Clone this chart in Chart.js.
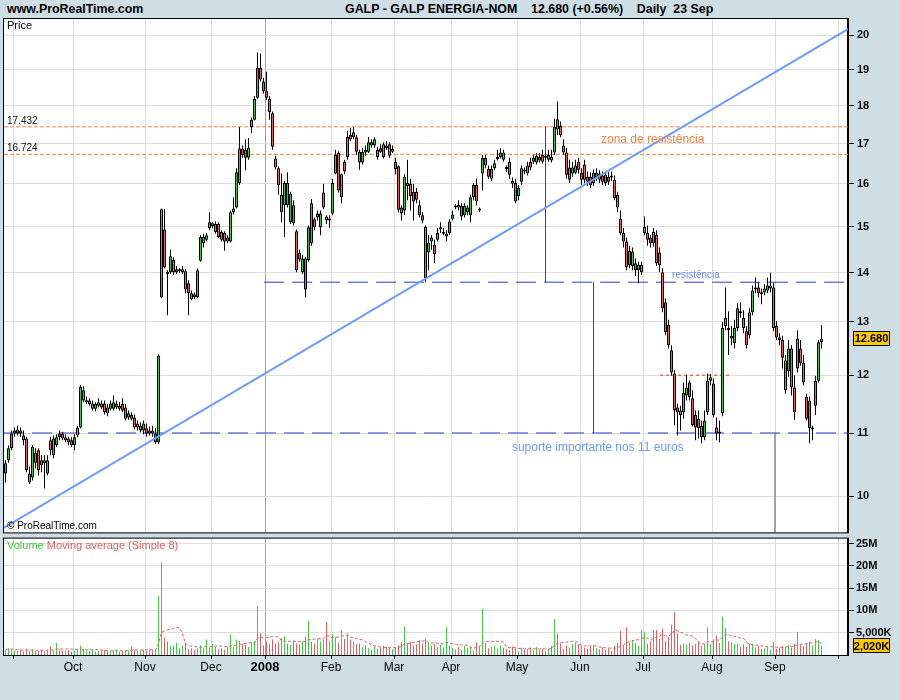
<!DOCTYPE html>
<html><head><meta charset="utf-8">
<script src="https://cdn.jsdelivr.net/npm/chart.js@4.4.1/dist/chart.umd.min.js"></script>
<style>
html,body{margin:0;padding:0;background:#CFDEE5;width:900px;height:700px;overflow:hidden;}
#wrap{position:relative;width:900px;height:700px;}
canvas{position:absolute;left:0;}
#cp{top:0}
#cv{top:530px}
.t{position:absolute;font-family:"Liberation Sans",Arial,sans-serif;font-weight:bold;font-size:12.4px;color:#000;top:2px;white-space:pre}
</style></head>
<body><div id="wrap">
<div class="t" style="left:7px">www.ProRealTime.com</div>
<div class="t" style="left:345px">GALP - GALP ENERGIA-NOM    12.680 (+0.56%)    Daily  23 Sep</div>
<canvas id="cp" width="900" height="542"></canvas>
<canvas id="cv" width="900" height="170"></canvas>
</div>
<script>
// ---------------- DATA ----------------
const openP = [10.35,10.56,10.75,10.99,10.99,11.04,10.96,10.91,10.35,10.29,10.52,10.72,10.56,10.56,10.35,10.88,10.64,10.80,10.93,10.99,10.88,10.91,10.88,10.80,10.96,11.09,11.73,11.52,11.55,11.41,11.49,11.46,11.50,11.50,11.43,11.41,11.52,11.43,11.46,11.49,11.43,11.26,11.30,11.26,11.16,11.04,11.16,11.08,10.99,11.04,10.99,10.85,
13.49,14.94,14.01,14.01,14.27,14.01,14.05,14.01,14.03,13.78,13.57,13.55,13.49,14.25,14.63,14.71,14.97,15.01,15.06,15.06,14.88,14.86,14.67,14.67,15.33,15.44,16.02,16.87,16.84,16.64,17.43,17.62,18.21,19.05,18.66,18.39,18.18,17.79,16.62,16.38,15.74,15.49,16.02,15.10,15.49,14.90,14.42,14.01,14.30,14.27,15.54,15.17,15.21,14.99,15.44,15.23,15.14,15.30,16.25,16.76,15.68,16.54,16.66,17.22,17.17,
17.16,16.79,16.52,16.84,16.79,17.03,16.95,16.84,16.88,16.66,16.95,16.98,16.79,16.54,16.43,15.44,15.37,16.02,16.00,15.81,15.81,15.49,15.26,15.00,14.43,14.76,14.60,14.71,14.94,14.88,14.78,14.86,15.18,15.44,15.50,15.48,15.26,15.44,15.26,15.68,15.97,15.39,16.25,16.64,16.36,16.12,16.38,16.61,16.66,16.77,16.40,16.54,16.07,16.02,15.71,16.05,16.34,16.25,16.54,16.54,16.52,16.57,16.71,16.69,16.59,16.66,16.77,17.63,17.46,16.95,16.77,16.40,16.25,16.27,16.54,16.10,16.47,16.17,16.17,16.02,16.15,16.25,16.20,16.22,16.17,16.20,16.10,15.74,15.18,14.86,14.67,14.16,14.14,14.20,14.05,14.01,14.86,14.86,14.76,14.63,14.82,14.43,14.01,13.39,12.94,12.46,12.03,11.43,11.38,11.35,11.64,11.87,11.59,11.09,11.24,10.93,10.93,11.35,11.90,11.85,11.09,10.99,11.33,13.08,12.88,12.68,12.59,12.88,13.21,13.08,12.82,12.74,13.19,13.65,13.69,13.59,13.59,13.63,13.67,13.69,12.92,12.70,12.65,12.27,12.07,12.49,11.78,12.12,12.49,12.22,11.61,11.55,11.06,11.46,11.90,12.61];
const highP = [10.56,10.80,11.04,11.09,11.12,11.09,11.04,10.94,10.46,10.80,10.75,10.75,10.64,10.64,10.64,10.94,10.96,10.98,11.04,11.02,10.98,10.94,10.93,10.98,11.12,11.82,11.80,11.62,11.59,11.55,11.52,11.59,11.55,11.55,11.49,11.55,11.64,11.55,11.52,11.59,11.49,11.38,11.35,11.31,11.21,11.18,11.21,11.16,11.11,11.12,11.08,12.38,
15.42,15.40,14.05,14.49,14.33,14.14,14.09,14.14,14.07,13.84,13.63,13.59,14.09,14.81,14.84,14.86,15.33,15.10,15.12,15.10,14.92,14.90,14.81,15.37,15.68,16.38,17.43,16.95,17.11,17.14,17.67,18.26,19.49,19.46,18.77,18.94,18.26,17.84,16.69,16.43,16.25,16.07,16.28,15.81,15.61,14.94,14.49,14.38,14.33,15.03,15.64,15.21,15.37,15.37,16.00,15.26,15.26,16.12,16.84,16.80,16.25,16.59,17.33,17.41,17.43,
17.22,16.84,16.89,16.95,17.17,17.11,17.16,16.92,16.98,17.03,17.06,17.03,16.95,16.64,16.45,15.49,16.23,16.59,16.12,16.00,15.90,15.61,15.33,15.03,14.81,14.81,14.71,14.97,15.10,14.97,14.92,15.17,15.37,15.52,15.61,15.54,15.54,15.49,15.74,16.02,16.12,15.44,16.71,16.71,16.45,16.45,16.59,16.84,16.88,16.84,16.45,16.64,16.15,16.12,15.97,16.45,16.40,16.54,16.64,16.71,16.76,16.76,16.84,16.76,16.84,16.84,17.65,18.10,17.57,17.11,16.89,16.59,16.54,16.59,16.64,16.38,16.59,16.30,16.28,16.35,16.38,16.33,16.30,16.30,16.28,16.30,16.20,15.81,15.37,14.97,14.76,14.58,14.54,14.30,14.23,14.23,15.23,15.03,14.81,14.97,14.92,14.54,14.09,13.47,13.04,12.55,12.09,11.50,11.46,11.87,12.00,11.91,11.73,11.38,11.38,11.21,11.38,12.03,12.02,11.94,11.26,11.21,13.00,13.69,13.21,12.92,13.04,13.37,13.39,13.23,12.92,13.27,13.73,13.90,13.80,13.67,13.76,13.90,14.00,13.78,13.02,12.78,12.73,12.37,12.65,12.55,12.00,12.84,12.65,12.37,11.67,11.62,11.12,11.99,12.65,12.94];
const lowP = [10.21,10.52,10.72,10.94,10.96,10.94,10.80,10.37,10.19,10.24,10.43,10.32,10.37,10.12,10.32,10.64,10.59,10.77,10.88,10.88,10.85,10.80,10.77,10.72,10.93,11.08,11.52,11.49,11.45,11.38,11.36,11.43,11.40,11.31,11.28,11.38,11.38,11.40,11.38,11.35,11.21,11.22,11.21,11.06,11.04,11.01,10.98,10.94,10.96,10.94,10.82,10.82,
13.47,14.09,13.13,13.97,13.95,13.97,13.99,13.97,13.57,13.13,13.43,13.45,13.47,14.23,14.54,14.67,14.92,14.97,14.84,14.74,14.67,14.47,14.63,14.65,15.28,15.42,15.97,16.64,16.33,16.59,17.27,17.60,18.18,18.66,18.33,18.15,17.62,16.84,16.35,15.74,15.10,14.77,15.44,15.06,15.03,14.01,14.23,13.97,13.49,14.23,14.58,14.92,15.14,14.81,15.40,15.06,14.97,15.26,16.23,15.79,15.54,16.23,16.59,17.06,17.11,
16.71,16.34,16.47,16.69,16.76,16.89,16.89,16.59,16.76,16.62,16.84,16.64,16.76,16.23,15.33,15.14,15.26,15.61,15.37,15.14,15.54,15.21,15.08,13.80,14.05,14.49,14.20,14.67,14.86,14.81,14.67,14.81,15.14,15.40,15.37,15.14,15.21,15.26,15.10,15.61,15.49,15.33,15.84,16.38,16.12,16.07,16.33,16.57,16.62,16.54,16.28,16.12,15.90,15.54,15.61,15.97,16.23,16.20,16.33,16.49,16.47,16.52,16.49,16.59,16.54,16.52,16.71,17.22,17.16,16.71,16.12,16.02,16.17,16.23,16.25,15.97,16.02,15.95,15.90,15.95,16.07,16.02,15.97,15.95,15.97,16.07,15.61,15.33,14.81,14.54,14.05,14.09,14.05,13.93,13.78,13.95,14.81,14.58,14.54,14.56,14.14,14.01,13.19,12.74,12.49,11.99,11.13,10.96,11.04,11.24,11.55,11.55,11.11,10.88,10.91,10.83,10.88,11.30,11.82,11.26,10.88,10.85,11.28,12.84,12.37,12.55,12.49,12.82,13.08,12.78,12.49,12.68,13.13,13.57,13.49,13.35,13.53,13.57,13.59,12.82,12.65,12.55,12.12,11.67,11.97,11.64,11.22,12.05,12.17,11.82,11.21,10.83,10.88,11.30,11.87,12.49];
const closeP = [10.51,10.75,10.99,11.04,11.06,10.99,10.88,10.40,10.21,10.77,10.68,10.40,10.48,10.51,10.56,10.72,10.91,10.93,10.99,10.91,10.93,10.85,10.80,10.93,11.09,11.79,11.55,11.55,11.49,11.50,11.41,11.52,11.43,11.35,11.33,11.50,11.41,11.50,11.41,11.38,11.24,11.33,11.24,11.09,11.09,11.12,11.04,10.99,11.04,10.99,10.85,12.36,
15.40,14.11,13.97,14.35,14.01,14.07,14.03,14.07,13.65,13.57,13.45,13.49,14.05,14.77,14.77,14.81,15.10,15.08,14.88,14.77,14.71,14.67,14.76,15.33,15.42,16.28,16.87,16.71,16.64,16.89,17.62,18.18,19.05,18.72,18.39,18.21,17.82,16.92,16.40,15.97,15.33,16.02,15.49,15.76,15.08,14.05,14.28,14.30,13.65,14.99,14.63,14.99,15.30,15.30,15.79,15.14,15.17,16.02,16.71,15.84,16.23,16.30,17.17,17.11,17.29,
16.79,16.52,16.79,16.77,17.03,16.95,17.11,16.66,16.79,16.98,16.88,16.69,16.86,16.36,15.39,15.30,16.17,15.95,15.71,15.58,15.62,15.26,15.14,13.88,14.65,14.67,14.40,14.86,14.99,14.84,14.84,15.12,15.28,15.48,15.44,15.23,15.48,15.33,15.68,15.97,15.58,15.37,16.64,16.45,16.17,16.36,16.50,16.66,16.77,16.59,16.36,16.22,16.00,15.58,15.90,16.38,16.30,16.45,16.40,16.64,16.69,16.66,16.54,16.64,16.71,16.57,17.43,17.36,17.21,16.77,16.22,16.10,16.40,16.45,16.34,16.27,16.10,16.05,15.97,16.27,16.27,16.10,16.05,16.02,16.05,16.15,15.66,15.44,14.86,14.67,14.11,14.47,14.45,14.05,14.16,14.16,15.00,14.71,14.63,14.88,14.20,14.16,13.27,12.80,12.55,12.05,11.38,11.35,11.30,11.68,11.78,11.61,11.13,11.30,11.08,11.12,11.21,11.90,11.96,11.30,10.99,11.02,12.88,12.92,12.84,12.73,12.88,13.27,13.17,12.88,12.55,13.19,13.63,13.69,13.57,13.55,13.67,13.73,13.73,12.88,12.70,12.65,12.32,11.73,12.49,11.78,11.35,12.68,12.22,11.87,11.24,11.08,11.09,11.90,12.61,12.68];
// volume in millions of shares
const volume = [1.2,1.5,1.3,1.0,0.9,1.1,0.8,1.4,1.0,1.3,
0.9,1.0,1.2,0.8,1.1,1.9,1.0,2.7,1.3,0.9,
1.0,1.1,0.8,1.0,1.3,2.1,1.4,1.0,0.9,1.2,
0.8,0.9,1.0,1.1,0.8,0.9,1.0,1.2,0.8,0.9,
1.1,1.0,1.9,1.2,0.9,1.0,1.1,0.9,1.3,1.0,
1.2,13.3,20.8,3.9,3.0,2.0,2.1,2.7,1.5,2.0,
2.8,1.3,1.5,1.2,1.5,2.2,1.6,3.5,1.6,2.5,
1.8,1.3,1.5,1.2,1.8,4.6,1.9,3.5,3.2,2.5,
2.2,1.8,2.8,3.2,11.0,4.9,2.2,3.0,2.5,3.5,
2.6,2.9,3.8,4.2,2.5,2.3,3.2,2.6,2.4,3.0,
4.1,7.7,2.9,2.6,3.6,3.0,3.5,7.4,3.2,4.6,
4.0,2.8,5.5,3.6,4.8,3.4,3.0,2.4,2.6,1.8,
2.2,1.5,1.2,1.9,1.4,1.6,2.1,1.8,1.6,1.3,
1.7,2.2,2.9,6.4,2.5,2.9,2.2,2.4,3.3,2.6,
3.6,2.8,2.1,2.5,1.8,2.3,1.6,6.2,2.1,1.5,
1.3,1.8,1.2,2.0,1.6,1.9,1.0,2.8,2.0,10.3,
2.7,1.5,1.9,2.0,1.4,2.1,1.6,1.3,1.1,1.9,
1.5,0.8,1.7,1.2,1.4,1.7,1.1,1.8,1.2,1.3,
0.9,1.4,2.0,8.0,4.8,2.6,1.3,2.0,1.7,2.4,
2.8,2.4,2.0,1.6,1.4,1.9,2.2,1.5,1.3,1.7,
1.2,1.5,0.9,2.0,2.7,5.4,2.2,6.2,2.8,3.3,
2.6,2.1,5.6,5.2,2.6,3.0,5.6,5.6,3.6,5.9,
3.2,4.0,6.8,9.6,4.9,2.3,2.6,2.4,2.8,2.2,
2.5,3.0,2.1,2.4,6.2,2.5,3.5,4.4,2.7,8.6,
6.0,3.1,2.8,2.4,2.5,1.9,2.4,1.8,2.6,2.5,
1.7,2.0,1.3,1.5,1.8,1.2,2.9,1.4,1.6,2.0,
1.8,2.2,1.7,2.5,5.2,2.3,2.0,2.6,3.0,2.2,
3.6,3.3,2.02];
// month boundaries (index of first trading day) and their labels
const monthStart = [3,23,47,69,87,109,130,149,171,192,213,236,257,278];
const monthLabels = ['','Oct','Nov','Dec','2008','Feb','Mar','Apr','May','Jun','Jul','Aug','Sep',''];
const priceTicks = [10,11,12,13,14,15,16,17,18,19,20];
const volTicks = [5,10,15,20,25];
const volTickLabels = ['5,000K','10M','15M','20M','25M'];
// drawn levels
const zoneLevels = [17.432, 16.724];
const resistLevel = 13.80;
const supportLevel = 11.0;
const dottedLevel = 12.0;
const trendFrom = {x:-0.5, y:9.54};
const trendTo = {x:280.83, y:20.19};

// ---------------- SETUP ----------------
const FONT = "'Liberation Sans', Arial, sans-serif";
const UP = '#3CC83C', DOWN = '#E46464';
const N = closeP.length;
const XMIN = -0.5, XMAX = -0.5 + 844/3;
const isUp = closeP.map((c,i)=>c>=openP[i]);
const volMA = volume.map((v,i)=>{const s=volume.slice(Math.max(0,i-7),i+1);return s.reduce((a,b)=>a+b,0)/s.length;});
const lastClose = closeP[N-1];
const lastVol = volume[N-1];

function gridColor(ctx){ return monthLabels[ctx.index]==='2008' ? '#A0A0A0' : '#DDDDDD'; }
function seg(x1,y1,x2,y2,color,dash,width,order){
  return {type:'line',data:[{x:x1,y:y1},{x:x2,y:y2}],borderColor:color,borderWidth:width||1,borderDash:dash||[],pointRadius:0,fill:false,tension:0,order:order===undefined?8:order};
}
function box(ctx,text,x,yc){
  ctx.save();
  ctx.font = "bold 11px "+FONT;
  const w = 37, h = 15;
  ctx.fillStyle = '#FFC800';
  ctx.fillRect(x, Math.round(yc-h/2), w, h);
  ctx.strokeStyle = '#000'; ctx.lineWidth = 1;
  ctx.strokeRect(x+0.5, Math.round(yc-h/2)+0.5, w-1, h-1);
  ctx.fillStyle = '#000'; ctx.textBaseline='middle'; ctx.textAlign='center';
  ctx.fillText(text, x+w/2, Math.round(yc)+1);
  ctx.restore();
}

const priceDecor = {
  id:'priceDecor',
  beforeDraw(chart){
    const a = chart.chartArea, c = chart.ctx;
    c.save(); c.fillStyle='#fff'; c.fillRect(a.left,a.top,a.right-a.left,a.bottom-a.top); c.restore();
  },
  afterDraw(chart){
    const a = chart.chartArea, c = chart.ctx, xs = chart.scales.x, ys = chart.scales.y;
    c.save();
    c.strokeStyle='#000'; c.lineWidth=1;
    c.strokeRect(a.left-0.5,a.top-0.5,a.right-a.left+1,a.bottom-a.top+1);
    c.fillStyle='#000'; c.font='11px '+FONT; c.textBaseline='alphabetic';
    c.fillText('Price', a.left+3, a.top+10);
    c.font='10px '+FONT; c.fillStyle='#111';
    zoneLevels.forEach(v=>{ c.fillText(v.toFixed(3), a.left+3, ys.getPixelForValue(v)-3); });
    c.font='10px '+FONT; c.fillStyle='#000';
    c.fillText('\u00A9 ProRealTime.com', a.left+3, a.bottom-3);
    c.font='12px '+FONT; c.fillStyle='#F08040';
    c.fillText('zona de resist\u00EAncia', xs.getPixelForValue(198.5), ys.getPixelForValue(Math.sqrt(zoneLevels[0]*zoneLevels[1]))+2);
    c.font='10px '+FONT; c.fillStyle='#6A8CF0';
    c.fillText('resist\u00EAncia', xs.getPixelForValue(222.2), ys.getPixelForValue(resistLevel)-4);
    c.font='12px '+FONT; c.fillStyle='#6A9BF5';
    c.fillText('suporte importante nos 11 euros', xs.getPixelForValue(168.8), ys.getPixelForValue(supportLevel)+18);
    c.restore();
    box(c, lastClose.toFixed(3), a.right+5, ys.getPixelForValue(lastClose));
  }
};

const volDecor = {
  id:'volDecor',
  beforeDraw(chart){
    const a = chart.chartArea, c = chart.ctx;
    c.save(); c.fillStyle='#fff'; c.fillRect(a.left,a.top,a.right-a.left,a.bottom-a.top); c.restore();
  },
  afterDraw(chart){
    const a = chart.chartArea, c = chart.ctx, ys = chart.scales.y;
    c.save();
    c.strokeStyle='#000'; c.lineWidth=1;
    c.strokeRect(a.left-0.5,a.top-0.5,a.right-a.left+1,a.bottom-a.top+1);
    c.font='11px '+FONT; c.textBaseline='alphabetic';
    c.fillStyle='#3CC83C'; c.fillText('Volume', a.left+3, a.top+10);
    const w = c.measureText('Volume ').width;
    c.fillStyle='#E06060'; c.fillText('Moving average (Simple 8)', a.left+3+w, a.top+10);
    c.restore();
    box(c, (lastVol*1000).toLocaleString('en-US',{maximumFractionDigits:0})+'K', a.right+5, ys.getPixelForValue(lastVol));
  }
};

function xAxis(showLabels){
  return {
    type:'linear', min:XMIN, max:XMAX, offset:false,
    afterBuildTicks:s=>{ s.ticks = monthStart.map(v=>({value:v-0.5})); },
    afterFit:s=>{ s.height = showLabels ? 45 : 0; },
    ticks:{display:showLabels, autoSkip:false, maxRotation:0, minRotation:0, padding:1, color:'#000',
      callback:(v,i)=>monthLabels[i],
      font:ctx=> monthLabels[ctx.index]==='2008' ? {family:FONT,size:13,weight:'bold'} : {family:FONT,size:12}},
    grid:{offset:false, color:gridColor, lineWidth:1, drawTicks:showLabels, tickLength:4, tickColor:'#000'},
    border:{display:false}
  };
}

// ---------------- PRICE CHART ----------------
const idx = closeP.map((_,i)=>i);
new Chart(document.getElementById('cp'), {
  type:'bar',
  data:{datasets:[
    {type:'line',data:[trendFrom,trendTo],borderColor:'#6A9BFF',borderWidth:2,pointRadius:0,fill:false,order:0},
    {type:'bar',data:idx.map(i=>({x:i,y:[openP[i],closeP[i]]})),backgroundColor:idx.map(i=>isUp[i]?UP:DOWN),
      borderColor:'#000',borderWidth:1,borderSkipped:false,barThickness:3,grouped:false,inflateAmount:0,minBarLength:2,order:5},
    {type:'bar',data:idx.map(i=>({x:i,y:[lowP[i],highP[i]]})),backgroundColor:'#000',borderWidth:0,barThickness:1,grouped:false,inflateAmount:0,order:6},
    seg(XMIN,zoneLevels[0],XMAX,zoneLevels[0],'#FF7F3F',[4,2]),
    seg(XMIN,zoneLevels[1],XMAX,zoneLevels[1],'#FF7F3F',[4,2]),
    seg(86.2,resistLevel,XMAX,resistLevel,'#2A3BDD',[20,8]),
    seg(XMIN,supportLevel,XMAX,supportLevel,'#2A3BDD',[20,8]),
    seg(180,zoneLevels[0],180,resistLevel,'#2A3BDD'),
    seg(196,resistLevel,196,supportLevel,'#2A3BDD'),
    seg(218.2,dottedLevel,241.5,dottedLevel,'#E03030',[3,3]),
    seg(256.5,supportLevel,256.5,9.473,'#9A9A9A')
  ]},
  options:{
    responsive:false, animation:false, devicePixelRatio:1, events:[],
    layout:{padding:{top:19,left:4,right:0,bottom:5}},
    plugins:{legend:{display:false},tooltip:{enabled:false}},
    scales:{
      x:xAxis(false),
      y:{type:'logarithmic',position:'right',min:9.473,max:20.50,
        afterBuildTicks:s=>{ s.ticks = priceTicks.map(v=>({value:v})); },
        afterFit:s=>{ s.width = 52; },
        ticks:{callback:v=>String(v),color:'#000',padding:3,font:{family:FONT,size:11,weight:'bold'}},
        grid:{color:'#DDDDDD',tickColor:'#000',tickLength:6},
        border:{display:true,color:'#000',width:2}}
    }
  },
  plugins:[priceDecor]
});

// ---------------- VOLUME CHART ----------------
new Chart(document.getElementById('cv'), {
  type:'bar',
  data:{datasets:[
    {type:'line',data:idx.map(i=>({x:i,y:volMA[i]})),borderColor:'#E06060',borderWidth:1,borderDash:[3,2],pointRadius:0,fill:false,tension:0,order:0},
    {type:'bar',data:idx.map(i=>({x:i,y:volume[i]})),backgroundColor:idx.map(i=>isUp[i]?'#44CC44':'#E46060'),borderWidth:0,barThickness:1,grouped:false,inflateAmount:0,order:5}
  ]},
  options:{
    responsive:false, animation:false, devicePixelRatio:1, events:[],
    layout:{padding:{top:7,left:4,right:0,bottom:0}},
    plugins:{legend:{display:false},tooltip:{enabled:false}},
    scales:{
      x:xAxis(true),
      y:{type:'linear',position:'right',min:0,max:26.1,
        afterBuildTicks:s=>{ s.ticks = volTicks.map(v=>({value:v})); },
        afterFit:s=>{ s.width = 52; },
        ticks:{callback:(v,i)=>volTickLabels[i],color:'#000',padding:2,font:{family:FONT,size:11,weight:'bold'}},
        grid:{color:'#DDDDDD',tickColor:'#000',tickLength:6},
        border:{display:true,color:'#000',width:2}}
    }
  },
  plugins:[volDecor]
});
</script>
</body></html>
